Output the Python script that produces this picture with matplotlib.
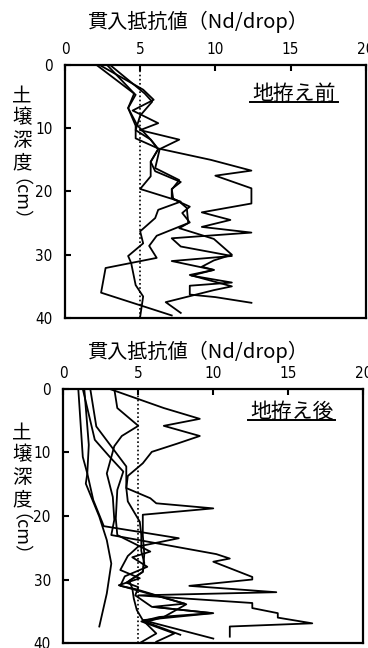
import numpy as np
import matplotlib
matplotlib.use('Agg')
import matplotlib.pyplot as plt

plt.rcParams['font.family'] = ['Noto Sans CJK JP', 'DejaVu Sans']

# --- data: depth (cm) and resistance (Nd/drop) ---
# before site preparation (地拵え前)
pre1_d = [0, 4.7, 6.8, 9.6, 11.6, 13.2, 15.0, 16.7, 17.5, 19.5, 21.9, 23.3, 24.5, 25.6, 26.5, 27.4,
          28.7, 30.2, 31.0, 32.4, 33.3, 34.4, 34.9, 36.3, 36.7, 37.6]
pre1_v = [2.1, 4.7, 4.2, 4.7, 4.7, 6.2, 9.7, 12.4, 10.0, 12.4, 12.4, 9.1, 11.0, 9.1, 12.4, 7.1,
          7.7, 11.1, 7.1, 9.9, 8.4, 11.1, 8.3, 8.3, 10.0, 12.4]
pre2_d = [0, 3.9, 5.5, 7.2, 9.2, 10.3, 11.8, 13.3, 16.3, 18.2, 19.7, 21.0, 21.6, 22.6, 25.0, 25.8,
          27.5, 30.0, 30.9, 31.9, 32.4, 33.2, 35.0, 35.6, 37.5, 39.2]
pre2_v = [2.3, 5.2, 5.9, 4.5, 6.2, 5.0, 7.6, 6.3, 6.0, 7.6, 7.1, 7.1, 7.6, 8.1, 8.2, 7.6,
          9.9, 11.1, 9.9, 9.1, 9.9, 8.3, 11.1, 9.9, 6.7, 7.7]
pre3_d = [0, 4.5, 6.8, 9.5, 11.8, 13.3, 15.3, 16.8, 18.5, 19.6, 21.2, 22.4, 23.4, 24.9, 27.0,
          28.6, 30.5, 32.1, 36.0, 39.6]
pre3_v = [2.8, 4.6, 4.2, 4.8, 5.7, 6.2, 5.7, 6.0, 7.7, 7.1, 7.2, 8.3, 7.8, 8.3, 6.1,
          5.6, 6.1, 2.7, 2.4, 7.1]
pre4_d = [0, 4.5, 5.8, 8.0, 10.3, 11.8, 13.3, 15.3, 17.6, 19.6, 21.6, 22.9, 24.2, 26.3, 28.2,
          30.2, 31.3, 34.8, 36.6, 39.8]
pre4_v = [3.0, 5.3, 5.8, 5.0, 4.7, 5.7, 6.2, 5.7, 5.7, 5.0, 7.7, 6.2, 6.0, 5.0, 5.2,
          4.2, 4.4, 4.7, 5.2, 5.0]

# after site preparation (地拵え後)
post1_d = [0, 10.7, 13.3, 14.9, 20.1, 23.8, 27.5, 32.2, 37.4]
post1_v = [1.0, 1.3, 1.6, 1.5, 2.4, 2.9, 3.2, 2.9, 2.4]
post2_d = [0, 8.8, 13.3, 17.5, 21.6, 23.5, 24.8, 26.3, 28.5, 29.8, 30.9, 31.5, 33.8, 34.3, 35.3,
           35.9, 36.6, 38.5, 39.8]
post2_v = [1.4, 1.7, 1.6, 2.0, 2.7, 7.7, 5.0, 4.3, 3.8, 5.1, 3.7, 4.6, 8.1, 6.0, 9.9,
           6.4, 5.2, 7.4, 6.2]
post3_d = [0, 3.0, 4.7, 5.8, 7.4, 8.6, 9.9, 11.7, 13.7, 15.6, 17.2, 18.0, 18.8, 19.8, 23.0, 26.0,
           28.8, 30.2, 31.4, 33.0, 34.8, 36.4, 38.5, 40.0]
post3_v = [3.1, 6.7, 9.1, 6.7, 9.1, 7.6, 5.9, 5.3, 4.3, 4.2, 5.8, 6.2, 10.0, 5.3, 5.3, 5.4,
           5.3, 4.4, 4.6, 4.7, 4.9, 5.3, 6.2, 5.1]
post4_d = [0, 3.0, 5.8, 7.4, 9.0, 13.3, 17.0, 20.6, 23.0, 26.0, 26.7, 27.2, 29.6, 30.0, 31.0, 32.0,
           32.5, 33.7, 34.5, 35.3, 36.0, 36.9, 37.4, 39.0]
post4_v = [3.4, 3.6, 5.0, 3.9, 3.4, 2.9, 3.3, 3.4, 3.2, 10.2, 11.1, 10.0, 12.6, 12.6, 8.4, 14.2,
           5.0, 12.6, 12.6, 14.3, 14.3, 16.6, 11.1, 11.1]
post5_d = [0, 5.9, 12.2, 13.8, 15.6, 17.7, 20.9, 23.0, 25.5, 27.4, 28.8, 30.5, 31.2, 32.5, 34.3,
           35.3, 36.4, 39.3]
post5_v = [1.8, 2.2, 4.2, 4.2, 4.2, 4.3, 5.1, 5.2, 5.2, 5.4, 5.3, 4.2, 5.0, 4.8, 5.9,
           10.0, 5.3, 10.0]
post6_d = [0, 8.0, 10.7, 13.0, 15.9, 20.4, 23.0, 25.6, 26.5, 28.0, 29.5, 31.0, 31.5, 33.9, 35.9,
           36.7, 38.7]
post6_v = [1.3, 2.1, 3.1, 4.0, 3.6, 3.5, 3.6, 5.8, 4.6, 5.6, 4.1, 3.8, 4.8, 8.2, 6.7,
           5.5, 7.8]

pre_lines = [(pre1_v, pre1_d), (pre2_v, pre2_d), (pre3_v, pre3_d), (pre4_v, pre4_d)]
post_lines = [(post1_v, post1_d), (post2_v, post2_d), (post3_v, post3_d),
              (post4_v, post4_d), (post5_v, post5_d), (post6_v, post6_d)]

x_ticks = [0, 5, 10, 15, 20]
y_ticks = [0, 10, 20, 30, 40]
ref_value = 5
x_title = '貫入抵抗値（Nd/drop）'
y_title = '土壌深度'
y_unit = '（cm）'

fig = plt.figure(figsize=(3.68, 6.48), dpi=100)
ax1 = fig.add_axes([0.1766, 0.5093, 0.8171, 0.3904])
ax2 = fig.add_axes([0.1720, 0.0077, 0.8152, 0.3920])


def style(ax, lines, tag, tag_x, tag_y, ul_y, ul_x0, ul_x1):
    for v, d in lines:
        ax.plot(v, d, color='black', lw=1.3)
    ax.axvline(ref_value, color='black', lw=1.2, ls=(0, (1, 1.5)))
    ax.set_xlim(0, 20)
    ax.set_ylim(40, 0)
    ax.xaxis.tick_top()
    ax.set_xticks(x_ticks)
    ax.set_yticks(y_ticks)
    ax.tick_params(direction='in', length=4, width=1.5, labelsize=11)
    ax.tick_params(axis='x', pad=6)
    ax.tick_params(axis='y', pad=9)
    for lab in ax.get_xticklabels() + ax.get_yticklabels():
        lab.set_family('DejaVu Sans')
        lab.set_stretch('condensed')
    for s in ax.spines.values():
        s.set_linewidth(1.6)
    ax.text(tag_x, tag_y, tag, transform=ax.transAxes, ha='center', va='center', fontsize=15)
    ax.plot([ul_x0, ul_x1], [ul_y, ul_y], transform=ax.transAxes, color='black', lw=1.4)


style(ax1, pre_lines, '地拵え前', 0.762, 0.885, 0.852, 0.615, 0.908)
style(ax2, post_lines, '地拵え後', 0.761, 0.908, 0.878, 0.616, 0.906)

# axis titles
fig.text(198 / 368, 1 - 22 / 648, x_title, ha='center', va='center', fontsize=14.5)
fig.text(198 / 368, 1 - 352 / 648, x_title, ha='center', va='center', fontsize=14.5)

# vertical y labels (characters stacked upright, unit rotated)
for c_y, u_y in ((129, 209), (466, 544)):
    fig.text(22 / 368, 1 - c_y / 648, '\n'.join(y_title), ha='center', va='center',
             fontsize=14, linespacing=1.08)
    fig.text(11 / 368, 1 - u_y / 648, y_unit, ha='center', va='center_baseline',
             fontsize=13, rotation=270, rotation_mode='anchor')

fig.savefig('out.png', dpi=100)
